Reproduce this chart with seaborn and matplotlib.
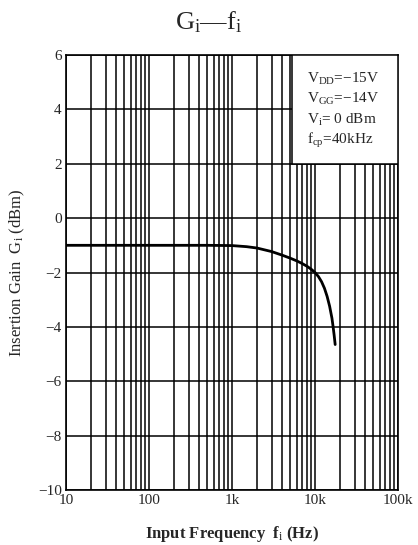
import numpy as np
import pandas as pd
import matplotlib
matplotlib.use("Agg")
import matplotlib.pyplot as plt
import seaborn as sns
from matplotlib.patches import Rectangle

freq_hz = [10, 100, 500, 1000, 1500, 2000, 3000, 4000, 5000, 6000, 7000, 8000, 9000,
           10000, 11000, 12000, 13000, 14000, 15000, 16000, 16500, 17000, 17500]
gain_dbm = [-1.0, -1.0, -1.0, -1.01, -1.05, -1.1, -1.23, -1.36, -1.47, -1.57, -1.67, -1.77, -1.88,
            -2.0, -2.15, -2.34, -2.58, -2.88, -3.24, -3.68, -3.98, -4.3, -4.65]
x_ticks = [10, 100, 1000, 10000, 100000]
x_tick_labels = ["10", "100", "1k", "10k", "100k"]
y_ticks = [-10, -8, -6, -4, -2, 0, 2, 4, 6]
y_tick_labels = ["\u221210", "\u22128", "\u22126", "\u22124", "\u22122", "0", "2", "4", "6"]
conditions = ["V$_{\\mathrm{DD}}$=\u221215V", "V$_{\\mathrm{GG}}$=\u221214V",
              "V$_{\\mathrm{i}}$= 0 dBm", "f$_{\\mathrm{cp}}$=40kHz"]

sns.set_style("white")
plt.rcParams["font.family"] = ["Liberation Serif", "DejaVu Serif"]
plt.rcParams["mathtext.fontset"] = "custom"
plt.rcParams["mathtext.rm"] = "Liberation Serif"
plt.rcParams["mathtext.it"] = "Liberation Serif:italic"

df = pd.DataFrame({"f": freq_hz, "G": gain_dbm})

fig = plt.figure(figsize=(4.18, 5.45), dpi=100)
ax = fig.add_axes([66/418, 1-490/545, 332/418, 435/545])

sns.lineplot(data=df, x="f", y="G", ax=ax, color="black", linewidth=2.0, zorder=5)
ax.set_xscale("log")
ax.set_xlim(10, 100000)
ax.set_ylim(-10, 6)

ax.set_xticks(x_ticks)
ax.set_xticklabels(x_tick_labels)
ax.set_yticks(y_ticks)
ax.set_yticklabels(y_tick_labels)
minor = [m * d for d in [10, 100, 1000, 10000] for m in range(2, 10)]
ax.set_xticks(minor, minor=True)
ax.tick_params(axis="both", which="both", length=0, labelsize=11, pad=3)
ax.set_axisbelow(True)
ax.grid(True, which="both", axis="x", color="black", linewidth=1.1)
ax.grid(True, which="major", axis="y", color="black", linewidth=1.1)
for s in ax.spines.values():
    s.set_color("black")
    s.set_linewidth(1.2)

rect = Rectangle((0.68, 0.75), 0.32, 0.25, transform=ax.transAxes,
                 facecolor="white", edgecolor="black", linewidth=1.1, zorder=3)
ax.add_patch(rect)
for i, t in enumerate(conditions):
    ax.text(0.725, 0.945 - i * 0.047, t, transform=ax.transAxes, fontsize=11,
            va="center", ha="left", zorder=6)

ax.set_xlabel("Input Frequency  f$_{\\mathrm{i}}$ (Hz)", fontsize=12, fontweight="bold", labelpad=12)
ax.set_ylabel("Insertion Gain  G$_{\\mathrm{i}}$ (dBm)", fontsize=12, labelpad=8)
fig.text(0.5, 0.96, "G$_{\\mathrm{i}}$\u2014f$_{\\mathrm{i}}$", ha="center", va="center", fontsize=19)

fig.savefig("out.png", dpi=100, facecolor="white")
